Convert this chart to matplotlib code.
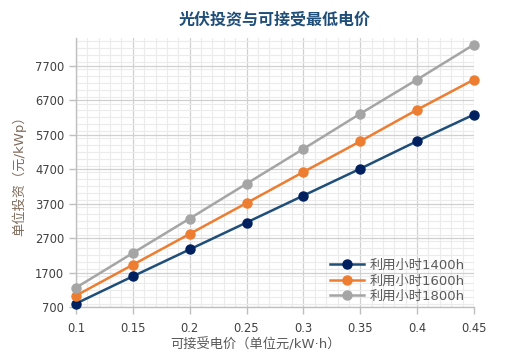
import matplotlib
matplotlib.use("Agg")
import matplotlib.pyplot as plt
from matplotlib.ticker import MultipleLocator, AutoMinorLocator

plt.rcParams['font.family'] = ['DejaVu Sans', 'Noto Sans CJK SC']

prices = [0.1, 0.15, 0.2, 0.25, 0.3, 0.35, 0.4, 0.45]
h1400 = [800, 1590, 2370, 3150, 3930, 4710, 5510, 6280]
h1600 = [1030, 1925, 2820, 3715, 4615, 5505, 6420, 7295]
h1800 = [1260, 2265, 3265, 4275, 5285, 6305, 7295, 8310]
series_labels = ['利用小时1400h', '利用小时1600h', '利用小时1800h']
yticks = [700, 1700, 2700, 3700, 4700, 5700, 6700, 7700]
xticks = [0.1, 0.15, 0.2, 0.25, 0.3, 0.35, 0.4, 0.45]
xtick_labels = ['0.1', '0.15', '0.2', '0.25', '0.3', '0.35', '0.4', '0.45']

fig = plt.figure(figsize=(5.09, 3.59), dpi=100)
ax = fig.add_axes([0.1493, 0.1448, 0.9312 - 0.1493, 0.8942 - 0.1448])

styles = [
    dict(color='#1F4E79', mfc='#002060', mec='#002060'),
    dict(color='#ED7D31', mfc='#ED7D31', mec='#ED7D31'),
    dict(color='#A5A5A5', mfc='#A5A5A5', mec='#A5A5A5'),
]
for vals, lab, st in zip([h1400, h1600, h1800], series_labels, styles):
    ax.plot(prices, vals, marker='o', markersize=6.5, linewidth=1.8,
            label=lab, zorder=3, clip_on=False, **st)

ax.set_xlim(0.1, 0.45)
ax.set_ylim(700, 8500)
ax.set_xticks(xticks)
ax.set_xticklabels(xtick_labels)
ax.set_yticks(yticks)
ax.xaxis.set_minor_locator(AutoMinorLocator(5))
ax.yaxis.set_minor_locator(MultipleLocator(200))

ax.grid(which='major', color='#D0D0D0', linewidth=0.9, zorder=0)
ax.grid(which='minor', color='#EBEBEB', linewidth=0.8, zorder=0)
ax.set_axisbelow(True)

for s in ['top', 'right']:
    ax.spines[s].set_visible(False)
for s in ['left', 'bottom']:
    ax.spines[s].set_color('#BFBFBF')
    ax.spines[s].set_linewidth(1.0)

ax.tick_params(axis='both', which='major', labelsize=8.3, colors='#BFBFBF',
               labelcolor='#404040', length=5, width=1.0)
ax.tick_params(axis='both', which='minor', length=0)
ax.tick_params(axis='x', pad=6)

ax.set_title('光伏投资与可接受最低电价', fontsize=11.5, fontweight='bold',
             color='#1F4E79', pad=10)
ax.set_xlabel('可接受电价（单位元/kW·h）', fontsize=9.5, color='#595959', labelpad=3)
ax.xaxis.set_label_coords(0.45, -0.115)
ax.set_ylabel('单位投资（元/kWp）', fontsize=9.5, color='#7F6A5A', labelpad=6)

leg = ax.legend(loc='lower right', frameon=False, fontsize=9.5,
                labelspacing=0.2, handlelength=2.6, borderaxespad=0.0,
                handletextpad=0.4, bbox_to_anchor=(0.99, -0.005))
for t in leg.get_texts():
    t.set_color('#595959')

fig.savefig('out.png', dpi=100)
